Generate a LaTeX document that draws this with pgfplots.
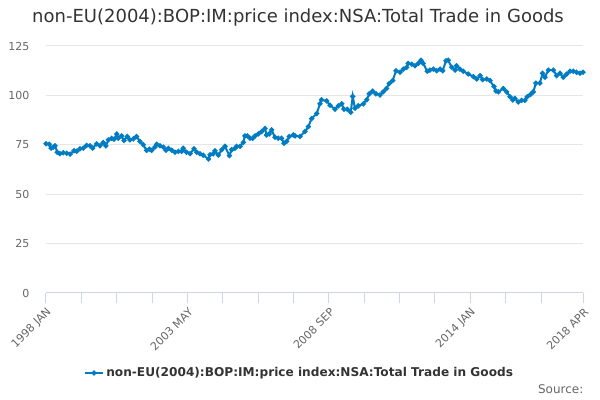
\documentclass[border=0pt]{standalone}
\usepackage{pgfplots}
\pgfplotsset{compat=1.18}
\usepackage{fontspec}
\setmainfont{DejaVu Sans}
\definecolor{serie}{RGB}{0,124,194}
\definecolor{gridc}{RGB}{230,230,230}
\definecolor{axisc}{RGB}{204,214,235}
\definecolor{lab}{RGB}{102,102,102}
\definecolor{titc}{RGB}{51,51,51}
\begin{document}
\begin{tikzpicture}
\useasboundingbox (0,0) rectangle (450pt,300pt);
\node[text=titc,font=\fontsize{13.5}{16}\selectfont] at (223.5pt,286.5pt) {non-EU(2004):BOP:IM:price index:NSA:Total Trade in Goods};
\node[text=lab,font=\fontsize{9}{11}\selectfont,anchor=east] at (441pt,8pt) {Source:};
\begin{axis}[
  at={(34.5pt,80.25pt)}, anchor=south west,
  scale only axis, width=402.75pt, height=185.25pt,
  xmin=0, xmax=243, ymin=0, ymax=125,
  axis x line=bottom, axis y line=left,
  separate axis lines,
  x axis line style={draw=axisc, line width=0.75pt, -},
  y axis line style={draw=none, -},
  ytick={0,25,50,75,100,125},
  ymajorgrids, grid style={draw=gridc, line width=0.75pt},
  ytick style={draw=none},
  xtick={0,64,128,192,243},
  xticklabels={1998 JAN,2003 MAY,2008 SEP,2014 JAN,2018 APR},
  minor xtick={16,32,48,80,96,112,144,160,176,208,224},
  tick align=outside,
  major tick length=7.5pt,
  minor tick length=7.5pt,
  xtick style={draw=axisc, line width=0.75pt},
  minor x tick style={draw=axisc, line width=0.75pt},
  /pgf/number format/assume math mode=true,
  yticklabel style={font=\fontsize{8.25}{10}\selectfont, text=lab, xshift=-1.5pt},
  xticklabel shift=0pt,
  xticklabel style={font=\fontsize{8.25}{10}\selectfont, text=lab, xshift=5pt, yshift=-3pt, rotate=45, anchor=east},
  legend style={at={(0.473,-0.324)}, anchor=center, draw=none, fill=none,
    font=\bfseries\fontsize{9.1}{11}\selectfont, text=titc},
  legend image code/.code={\draw[#1, mark repeat=2, mark phase=2] plot coordinates {(0pt,0pt) (6.5pt,0pt) (13pt,0pt)};},
  clip=false,
]
\addplot[serie, line width=1.5pt, mark=*, mark size=1.1pt, mark options={solid}] table {
x y
0 75.5
1.5 75.3
2.3 73.3
3.3 73.8
4.1 74.5
5.1 71.2
6.3 70.5
7.8 71
9.4 70.7
10.9 70.3
12.7 72
13.9 71.7
15.4 73
16.9 73.3
18.4 74.7
19.9 74.5
21.1 73.3
22.9 75.5
24.4 74.5
25.9 76.2
27.1 74.5
28.2 77.5
29.7 78.3
30.8 77.8
32 80.5
32.7 78.3
34.2 79.5
35.3 77.2
36.8 79.2
38 77.5
39.5 78
41 79.2
42.5 76.7
44 75
45.5 72.2
46.8 72.8
47.8 72.2
49.3 73.8
50.1 75.3
51.6 74.5
53.1 73.8
54.3 72.2
55.4 73.2
56.9 72.2
58.4 71.2
59.9 71.7
61.4 71.7
62.1 73.2
63.6 71.2
65.2 70.5
67 73
68.2 71.2
69.7 70.5
71.2 69.7
73.5 67.8
74.2 70
75.7 70.5
76.5 72
78 69.8
79.5 72.5
81 74.2
83 69.5
84 72.5
85.5 73.2
86.3 74.2
87.8 74.2
89.3 76.2
90 79.5
91.1 79.5
92.3 78.3
93.5 78.3
94.6 79.5
96.1 80.5
97.6 81.7
99.1 83.3
99.8 80
101 80.5
102.1 82.5
103.6 78.8
105.1 78.3
106.6 78.3
107.7 75.8
108.9 76.7
110.1 79.2
111.9 80
112.7 79.5
114.9 79.2
117.2 81.7
118.7 84.2
120.2 88.3
122.5 90.8
124 95.8
124.7 97.8
127 97.2
128.5 95
130.8 93
132.3 94.7
133.8 95.8
134.8 93
136.3 93
137.9 91.5
138.8 99.5
139.8 93.5
141.3 94.7
143.6 95.7
145.1 97.8
146.3 100.8
147.8 102.2
149.3 100.8
151.1 100.2
152.6 101.8
154.1 103.5
155.3 106
156.9 107.5
158.4 112.5
160.2 111.7
161.7 113.3
163.2 114.2
163.9 116.2
165.5 115.8
167 115
168.5 116.2
169.7 117.8
170.7 116.2
172.5 112.2
173.7 112.8
175.3 113.3
176.8 112.5
178.3 113.3
179.5 112.5
181 117.5
182 117.8
183.6 114.2
185.1 112.8
185.8 115
187.3 113.3
188.8 112.2
191.1 110.8
193.4 109.5
194.9 108.3
196.4 110
197.6 108
199.4 108.3
200.9 107.5
202.7 104.5
203.6 102.2
204.7 101.8
206.9 103.5
208.4 101.8
210 99.3
211.2 97.7
212.2 98.5
213.7 96.7
215.2 97.5
216.7 97.5
217.8 99.3
219.3 100.5
220.5 101.8
221.7 106.2
223.5 106.2
224.7 111.2
225.8 109.2
227.3 112.8
229.6 112.8
231.1 110
232.6 111.2
234.1 109.2
235.6 110.8
237.1 112.2
238.6 112.2
240.1 111.7
241.6 111.2
243 111.7
};
\addlegendentry{non-EU(2004):BOP:IM:price index:NSA:Total Trade in Goods}
\end{axis}
\end{tikzpicture}
\end{document}
